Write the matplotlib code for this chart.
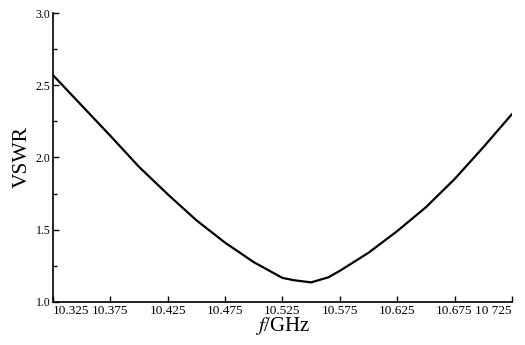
import matplotlib
matplotlib.use("Agg")
import matplotlib.pyplot as plt
from matplotlib.ticker import MultipleLocator, FormatStrFormatter

freq = [10.325, 10.35, 10.375, 10.40, 10.425, 10.45, 10.475, 10.50, 10.525,
        10.535, 10.55, 10.565, 10.575, 10.60, 10.625, 10.65, 10.675, 10.70, 10.725]
vswr = [2.57, 2.36, 2.15, 1.935, 1.745, 1.565, 1.41, 1.275, 1.166,
        1.15, 1.135, 1.17, 1.215, 1.34, 1.49, 1.655, 1.85, 2.07, 2.30]
xticks = [10.325, 10.375, 10.425, 10.475, 10.525, 10.575, 10.625, 10.675, 10.725]
xtick_labels = ["10.325", "10.375", "10.425", "10.475", "10.525",
                "10.575", "10.625", "10.675", "10 725"]

plt.rcParams["font.family"] = ["Liberation Serif", "DejaVu Serif"]
plt.rcParams["mathtext.fontset"] = "stix"

fig = plt.figure(figsize=(5.25, 3.45), dpi=100)
ax = fig.add_axes([0.101, 0.125, 0.874, 0.837])
ax.plot(freq, vswr, color="black", lw=1.6)

ax.set_xlim(10.325, 10.725)
ax.set_ylim(1.0, 3.0)
ax.set_xticks(xticks)
ax.set_xticklabels(xtick_labels)
ax.yaxis.set_major_locator(MultipleLocator(0.5))
ax.yaxis.set_minor_locator(MultipleLocator(0.25))
ax.yaxis.set_major_formatter(FormatStrFormatter("%.1f"))

for side in ("top", "right"):
    ax.spines[side].set_visible(False)
for side in ("left", "bottom"):
    ax.spines[side].set_linewidth(1.2)
ax.tick_params(direction="in", length=4, width=1, pad=2)
ax.tick_params(axis="x", labelsize=9.5)
ax.tick_params(axis="y", labelsize=8.5)
ax.tick_params(which="minor", direction="in", length=3, width=1)

# first and last x labels sit inside the axis ends, as in the original
labels = ax.get_xticklabels()
labels[0].set_horizontalalignment("left")
labels[-1].set_horizontalalignment("right")

ax.set_ylabel("VSWR", fontsize=15.5, labelpad=3)
ax.set_xlabel(r"$\mathit{f}$/GHz", fontsize=15, labelpad=-1)

fig.savefig("out.png", dpi=100)
